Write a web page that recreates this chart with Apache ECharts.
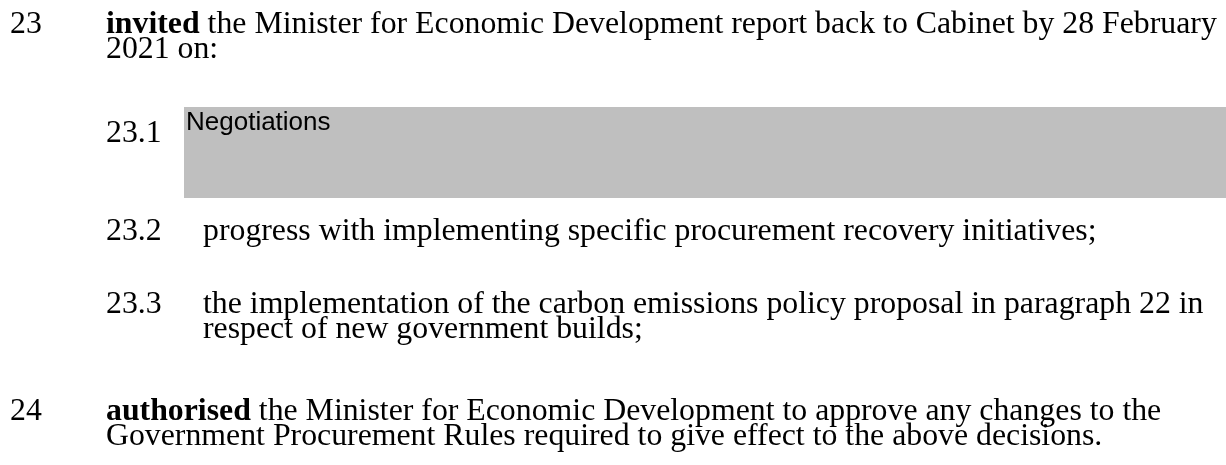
<!DOCTYPE html>
<html>
<head>
<meta charset="utf-8">
<script src="https://cdn.jsdelivr.net/npm/echarts@6/dist/echarts.min.js"></script>
<style>
  html, body { margin: 0; padding: 0; background: #fff; }
  #main { width: 1226px; height: 465px; }
</style>
</head>
<body>
<div id="main"></div>
<script>
// text of the two resolutions
var paraNums = ['23', '24'];
var paraLead = ['invited', 'authorised'];
var paraRest = [
  [' the Minister for Economic Development report back to Cabinet by 28 February', '2021 on:'],
  [' the Minister for Economic Development to approve any changes to the', 'Government Procurement Rules required to give effect to the above decisions.']
];
var itemNums = ['23.1', '23.2', '23.3'];
var itemLines = [
  ['Negotiations'],
  ['progress with implementing specific procurement recovery initiatives;'],
  ['the implementation of the carbon emissions policy proposal in paragraph 22 in', 'respect of new government builds;']
];

var serif = '"Liberation Serif", "Times New Roman", serif';
var fs = 31.8;
var pitch = 25;

// vertical centre of the first line of each block
var paraY = [25, 412];
var itemY = [134, 232, 305];
var numX = 10, textX = 106, subX = 203;

var g = [];

function txt(x, y, s, extra) {
  var st = {
    text: s, x: x, y: y, fill: '#000',
    font: fs + 'px ' + serif, verticalAlign: 'middle',
    rich: {
      b: { fontSize: fs, fontFamily: serif, fontWeight: 'bold', fill: '#000' },
      n: { fontSize: fs, fontFamily: serif, fill: '#000' }
    }
  };
  for (var k in extra) st[k] = extra[k];
  return { type: 'text', style: st };
}

// redacted block behind 23.1
g.push({
  type: 'rect',
  shape: { x: 184, y: 107, width: 1042, height: 91 },
  style: { fill: '#bfbfbf' }
});

paraNums.forEach(function (n, i) {
  g.push(txt(numX, paraY[i], n));
  g.push(txt(textX, paraY[i], '{b|' + paraLead[i] + '}{n|' + paraRest[i][0] + '}'));
  for (var j = 1; j < paraRest[i].length; j++) {
    g.push(txt(textX, paraY[i] + pitch * j, paraRest[i][j]));
  }
});

itemNums.forEach(function (n, i) {
  g.push(txt(textX, itemY[i], n));
  itemLines[i].forEach(function (line, j) {
    if (i === 0) {
      g.push(txt(186, 123, line, { font: '26px "Liberation Sans", Arial, sans-serif' }));
    } else {
      g.push(txt(subX, itemY[i] + pitch * j, line));
    }
  });
});

var chart = echarts.init(document.getElementById('main'));
chart.setOption({
  backgroundColor: '#fff',
  animation: false,
  graphic: { elements: g }
});
</script>
</body>
</html>
